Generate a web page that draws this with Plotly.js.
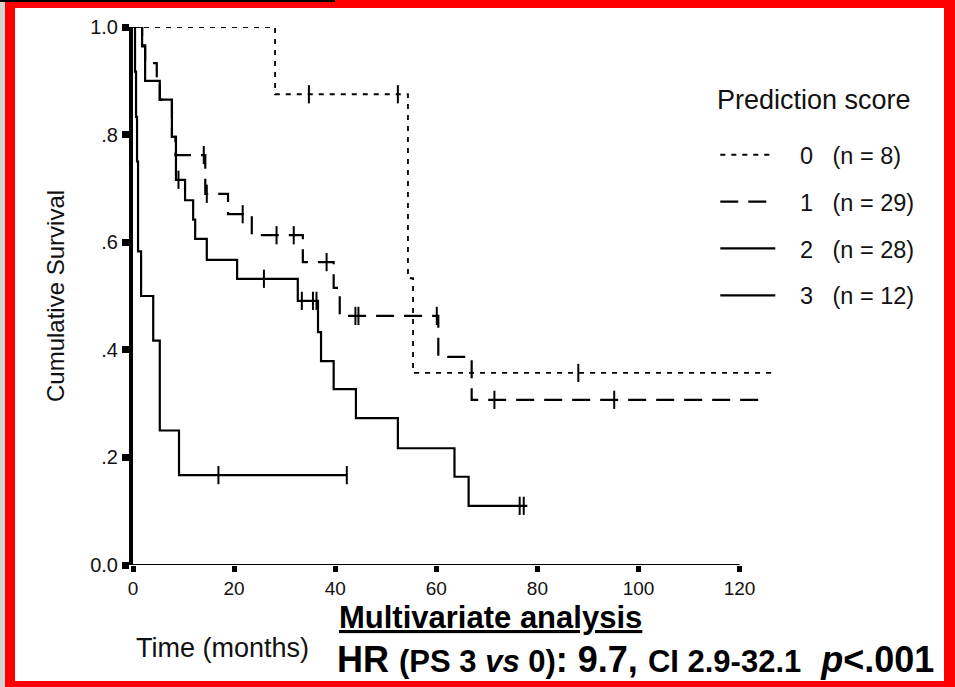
<!DOCTYPE html>
<html><head><meta charset="utf-8">
<script src="https://cdn.plot.ly/plotly-3.0.1.min.js"></script>
<style>
html,body{margin:0;padding:0;background:#fff;}
#wrap{position:relative;width:955px;height:687px;overflow:hidden;background:#fff;}
#chart{position:absolute;left:0;top:0;width:955px;height:687px;}
#gray{position:absolute;left:0;top:0;width:5px;height:687px;background:#d4d4d4;}
#frame{position:absolute;left:5px;top:0;width:950px;height:687px;box-sizing:border-box;border-style:solid;border-color:#ff0000;border-width:8px 11px 6px 10px;pointer-events:none;}
#topline{position:absolute;left:0;top:0;width:335px;height:2px;background:#000;}
</style></head>
<body>
<div id="wrap"><div id="chart"></div><div id="gray"></div><div id="frame"></div><div id="topline"></div></div>
<script>
// ---- data ----
// Prediction score 0 (n = 8)
const t0 = [0, 28.1, 54.4, 55.4, 127];
const s0 = [1.0, 0.875, 0.533, 0.357, 0.357];
const c0t = [34.8, 52.4, 88.1];
const c0s = [0.875, 0.875, 0.357];
// Prediction score 1 (n = 29)
const t1 = [0, 1.8, 2.4, 4.7, 5.3, 7.7, 8.4, 14.3, 18.8, 23.5, 33.6, 39.7, 40.9, 60.4, 67.0, 125];
const s1 = [1, 0.966, 0.933, 0.897, 0.865, 0.796, 0.762, 0.69, 0.652, 0.613, 0.563, 0.515, 0.463, 0.387, 0.307, 0.307];
const c1t = [14.0, 14.6, 21.7, 28.4, 31.8, 38.3, 44.0, 44.6, 60.1, 71.5, 95.2];
const c1s = [0.762, 0.69, 0.652, 0.613, 0.613, 0.563, 0.463, 0.463, 0.463, 0.307, 0.307];
// Prediction score 2 (n = 28)
const t2 = [0, 1.8, 2.4, 5.3, 7.7, 8.5, 10.3, 11.9, 12.3, 14.6, 20.6, 32.6, 36.6, 37.2, 39.7, 44.1, 52.4, 63.6, 66.4, 78];
const s2 = [1, 0.964, 0.9, 0.865, 0.796, 0.716, 0.678, 0.642, 0.606, 0.567, 0.532, 0.491, 0.433, 0.379, 0.327, 0.273, 0.217, 0.164, 0.11, 0.11];
const c2t = [9.0, 25.9, 33.4, 35.6, 36.3, 76.5, 77.3];
const c2s = [0.716, 0.532, 0.491, 0.491, 0.491, 0.11, 0.11];
// Prediction score 3 (n = 12)
const t3 = [0, 0.4, 0.6, 0.8, 1.0, 1.6, 4.0, 5.3, 9.1, 42.3];
const s3 = [1, 0.917, 0.833, 0.75, 0.583, 0.5, 0.417, 0.25, 0.167, 0.167];
const c3t = [16.9, 42.3];
const c3s = [0.167, 0.167];

const legendTitle = "Prediction score";
const legendNames = [
  "\u00a0\u00a0\u00a00\u00a0\u00a0\u00a0(n = 8)",
  "\u00a0\u00a0\u00a01\u00a0\u00a0\u00a0(n = 29)",
  "\u00a0\u00a0\u00a02\u00a0\u00a0\u00a0(n = 28)",
  "\u00a0\u00a0\u00a03\u00a0\u00a0\u00a0(n = 12)"
];
const xTicks = [0, 20, 40, 60, 80, 100, 120];
const yTicks = [0, 0.2, 0.4, 0.6, 0.8, 1.0];
const yTickText = ["0.0", ".2", ".4", ".6", ".8", "1.0"];

const curves = [
  {t: t0, s: s0, ct: c0t, cs: c0s, dash: "5px,6px", w: 1.8},
  {t: t1, s: s1, ct: c1t, cs: c1s, dash: "18px,10px", w: 2.2},
  {t: t2, s: s2, ct: c2t, cs: c2s, dash: "solid", w: 2.2},
  {t: t3, s: s3, ct: c3t, cs: c3s, dash: "solid", w: 2.2}
];

const traces = [];
curves.forEach((c, i) => {
  traces.push({
    x: c.t, y: c.s, type: "scatter", mode: "lines",
    line: {shape: "hv", color: "#000", width: c.w, dash: c.dash},
    name: legendNames[i], legendgroup: "g" + i, cliponaxis: false,
    hoverinfo: "skip"
  });
});
curves.forEach((c, i) => {
  traces.push({
    x: c.ct, y: c.cs, type: "scatter", mode: "markers",
    marker: {symbol: "line-ns-open", size: 13, color: "#000", line: {width: 2, color: "#000"}},
    showlegend: false, legendgroup: "g" + i, cliponaxis: false, hoverinfo: "skip"
  });
});

const FONT = "Liberation Sans, Arial, sans-serif";
const layout = {
  width: 955, height: 687,
  margin: {l: 133, r: 174.6, t: 27, b: 122},
  paper_bgcolor: "rgba(0,0,0,0)", plot_bgcolor: "rgba(0,0,0,0)",
  font: {family: FONT, color: "#000"},
  showlegend: true,
  legend: {
    x: 0.9, xanchor: "left", y: 0.803, yanchor: "top",
    font: {size: 23.5, family: FONT, color: "#111"},
    itemwidth: 55, tracegroupgap: 13.3, traceorder: "grouped",
    bgcolor: "rgba(0,0,0,0)", borderwidth: 0
  },
  xaxis: {
    range: [0, 128], showgrid: false, zeroline: false, showline: false,
    tickmode: "array", tickvals: xTicks, ticks: "outside", ticklen: 6, tickwidth: 5, tickcolor: "#000",
    tickfont: {size: 19, family: FONT, color: "#111"}
  },
  yaxis: {
    range: [0, 1], showgrid: false, zeroline: false, showline: true, linewidth: 4, linecolor: "#000",
    tickmode: "array", tickvals: yTicks, ticktext: yTickText, ticks: "outside", ticklen: 7, tickwidth: 7, tickcolor: "#000",
    tickfont: {size: 20, family: FONT, color: "#111"}
  },
  shapes: [
    {type: "line", xref: "x", yref: "y", x0: 0, x1: xTicks[xTicks.length - 1], y0: 0, y1: 0, line: {color: "#000", width: 2}}
  ],
  annotations: [
    {text: legendTitle, xref: "paper", yref: "paper", x: 0.899, y: 0.864, showarrow: false,
     font: {size: 27, family: FONT, color: "#111"}, xanchor: "left", yanchor: "middle"},
    {text: "Cumulative Survival", xref: "paper", yref: "paper", x: 0, y: 0.5, xshift: -78, textangle: -90,
     showarrow: false, font: {size: 24, family: FONT, color: "#111"}, xanchor: "center", yanchor: "middle"},
    {text: "Time (months)", xref: "paper", yref: "paper", x: 0, y: 0, xshift: 89, yshift: -83,
     showarrow: false, font: {size: 27, family: FONT, color: "#111"}, xanchor: "center", yanchor: "middle"},
    {text: "<b><u>Multivariate analysis</u></b>", xref: "paper", yref: "paper", x: 0, y: 0, xshift: 357, yshift: -52,
     showarrow: false, font: {size: 31, family: FONT, color: "#000"}, xanchor: "center", yanchor: "middle"},
    {text: "<b>HR <span style='font-size:31px'>(PS 3 <i>vs</i> 0)</span>: 9.7, <span style='font-size:31px'>CI 2.9-32.1</span>\u00a0 <i>p</i>&lt;.001</b>",
     xref: "paper", yref: "paper", x: 0, y: 0, xshift: 202, yshift: -94,
     showarrow: false, font: {size: 36, family: FONT, color: "#000"}, xanchor: "left", yanchor: "middle"}
  ]
};

Plotly.newPlot("chart", traces, layout, {staticPlot: true, displayModeBar: false});
</script>
</body></html>
